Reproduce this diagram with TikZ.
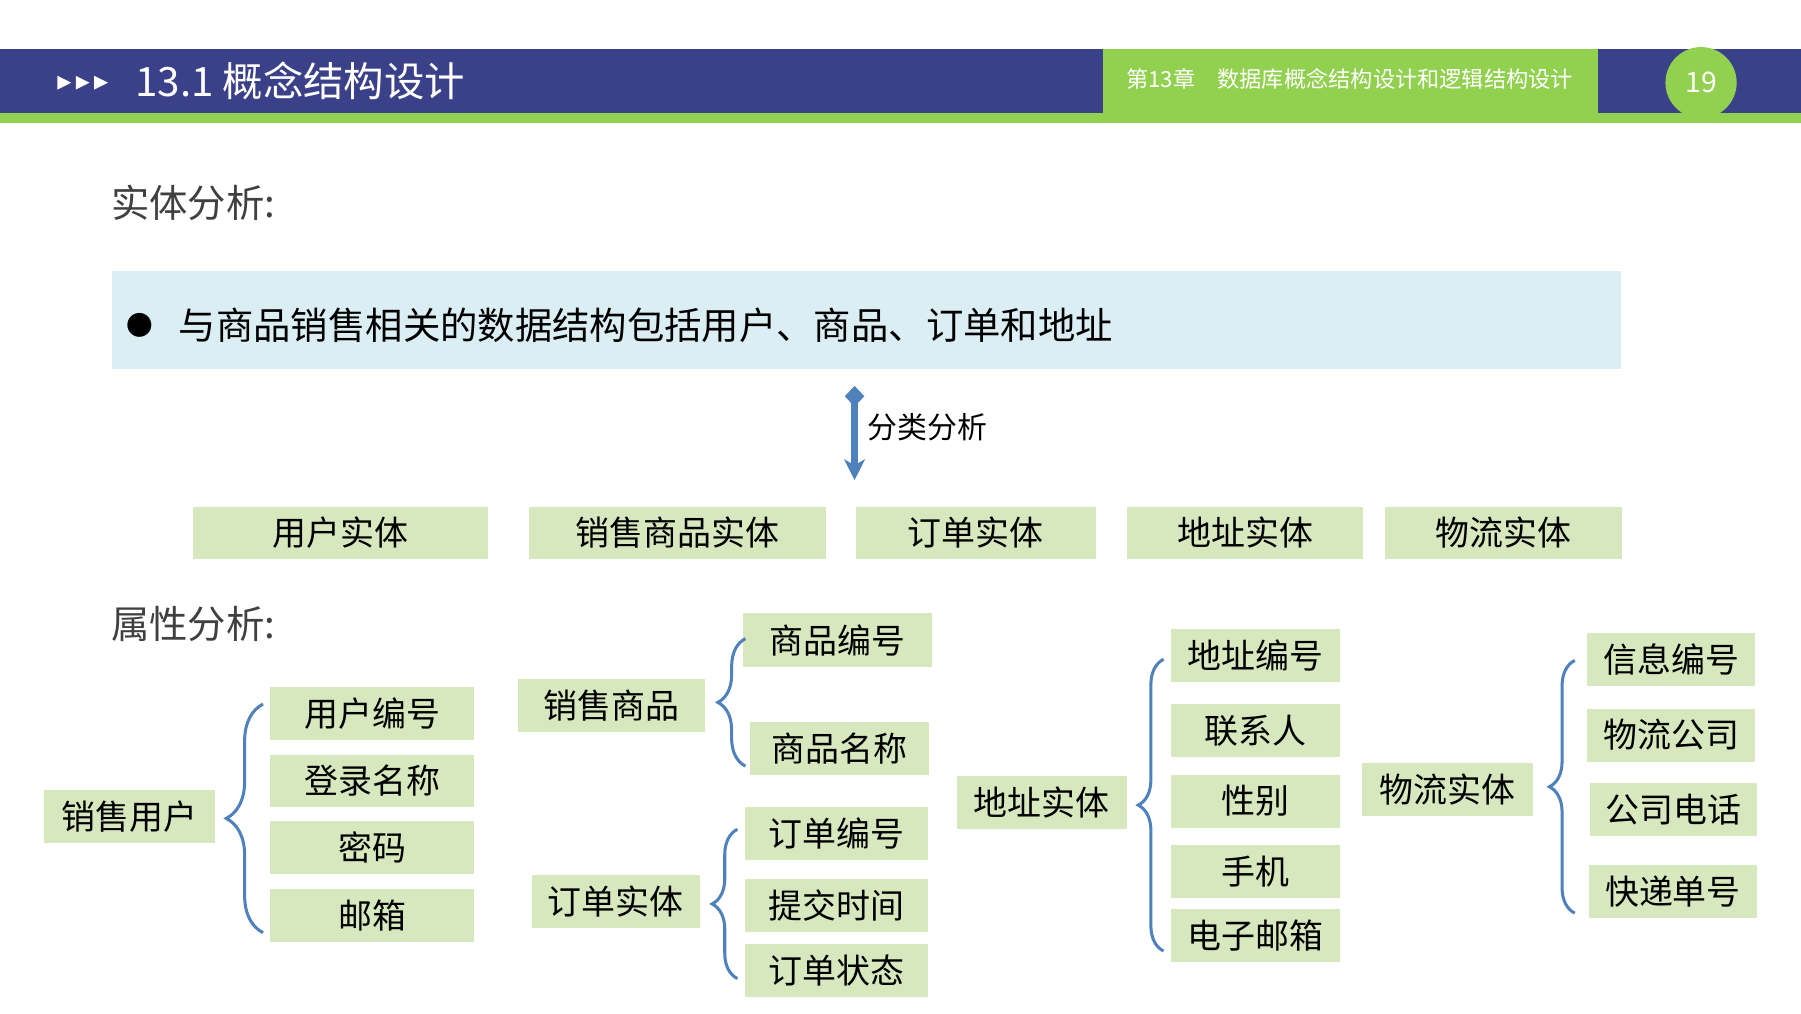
\documentclass[tikz,border=0pt]{standalone}
\usepackage{fontspec}
\setmainfont{Noto Sans CJK SC}
\usetikzlibrary{arrows.meta, decorations.pathreplacing, positioning}

\definecolor{barblue}{RGB}{59,65,136}
\definecolor{bargreen}{RGB}{146,208,80}
\definecolor{infoblue}{RGB}{219,238,244}
\definecolor{boxgreen}{RGB}{215,231,190}
\definecolor{bracecol}{RGB}{79,129,189}
\definecolor{headgray}{RGB}{64,64,64}

\tikzset{
  entbox/.style={fill=boxgreen, minimum height=0.46cm, inner sep=0pt,
    font=\fontsize{8.4pt}{10pt}\selectfont},
  attrbox/.style={fill=boxgreen, minimum height=0.46cm, inner sep=0pt,
    font=\fontsize{8.4pt}{10pt}\selectfont},
  attrbrace/.style={draw=bracecol, line width=0.75pt, decorate,
    decoration={brace, amplitude=#1}},
  heading/.style={anchor=west, inner sep=0pt, text=headgray, font=\fontsize{9.5pt}{11pt}\selectfont},
}

\begin{document}
\begin{tikzpicture}[x=0.01cm, y=-0.01cm]
    \useasboundingbox (0,0) rectangle (1568,882);
    \fill[white] (0,0) rectangle (1568,882);

    % header bar
    \fill[barblue] (0,43) rectangle (1568,98);
    \fill[bargreen] (0,98) rectangle (1568,107);
    \fill[bargreen] (960,43) rectangle (1391,107);
    \foreach \i in {0,1,2} {
        \fill[white] (50+\i*16,66) -- ++(12,6) -- ++(-12,6) -- cycle;
    };
    \node[anchor=west, inner sep=0pt, text=white, font=\fontsize{10pt}{12pt}\selectfont] (title) at (117,70) {13.1 概念结构设计};
    \node[text=white, font=\fontsize{5.5pt}{7pt}\selectfont] (chapter) at (1175,69) {第13章　数据库概念结构设计和逻辑结构设计};
    \node[circle, fill=bargreen, minimum size=0.62cm, inner sep=0pt, text=white,
      font=\fontsize{7pt}{8pt}\selectfont] (pagenum) at (1481,72) {19};

    % entity analysis
    \node[heading] (enthead) at (96,177) {实体分析:};
    \node[fill=infoblue, minimum width=13.13cm, minimum height=0.85cm, inner sep=0pt] (infobox) at (754.5,278.5) {};
    \node[font=\fontsize{6.6pt}{8pt}\selectfont, inner sep=0pt] (bullet) at (122,283) {●};
    \node[anchor=west, inner sep=0pt, font=\fontsize{9.25pt}{11pt}\selectfont] (infotext) at (155,283) {与商品销售相关的数据结构包括用户、商品、订单和地址};

    \coordinate (clstop) at (744,336);
    \coordinate (clsbot) at (744,418);
    \draw[bracecol, line width=1.6pt, {Diamond[length=0.18cm, width=0.17cm]}-{Stealth[length=0.18cm, width=0.18cm, inset=0.05cm]}]
        (clstop) -- (clsbot) node[pos=0.44, right=1.5pt, inner sep=1pt, text=black, font=\fontsize{7.4pt}{9pt}\selectfont] (clslabel) {分类分析};

    \node[entbox, minimum width=2.57cm] (ent1) at (296.5,464) {用户实体};
    \node[entbox, minimum width=2.58cm] (ent2) at (590,464) {销售商品实体};
    \node[entbox, minimum width=2.09cm] (ent3) at (849.5,464) {订单实体};
    \node[entbox, minimum width=2.06cm] (ent4) at (1084,464) {地址实体};
    \node[entbox, minimum width=2.06cm] (ent5) at (1309,464) {物流实体};

    % attribute analysis
    \node[heading] (attrhead) at (96,543) {属性分析:};

    \node[attrbox, minimum width=1.49cm] (user) at (113,711) {销售用户};
    \foreach \name/\ypos [count=\i] in {用户编号/621, 登录名称/680, 密码/738, 邮箱/797} {
        \node[attrbox, minimum width=1.78cm] (user\i) at (324,\ypos) {\name};
    };
    \coordinate (ubr-top) at (229,613);
    \coordinate (ubr-bot) at (229,812);
    \draw[attrbrace=0.32cm] (ubr-bot) -- (ubr-top);

    \node[attrbox, minimum width=1.63cm] (goods) at (532.5,614) {销售商品};
    \node[attrbox, minimum width=1.64cm, minimum height=0.47cm] (goods1) at (729,557.5) {商品编号};
    \node[attrbox, minimum width=1.56cm] (goods2) at (731,652) {商品名称};
    \coordinate (gbr-top) at (649,556);
    \coordinate (gbr-bot) at (649,667);
    \draw[attrbrace=0.24cm] (gbr-bot) -- (gbr-top);

    \node[attrbox, minimum width=1.46cm] (order) at (536,785) {订单实体};
    \foreach \name/\ypos [count=\i] in {订单编号/726, 提交时间/788, 订单状态/845} {
        \node[attrbox, minimum width=1.59cm] (order\i) at (728.5,\ypos) {\name};
    };
    \coordinate (obr-top) at (642,722);
    \coordinate (obr-bot) at (642,852);
    \draw[attrbrace=0.22cm] (obr-bot) -- (obr-top);

    \node[attrbox, minimum width=1.48cm] (addr) at (907,698.5) {地址实体};
    \foreach \name/\ypos [count=\i] in {地址编号/570.5, 联系人/636, 性别/697.5, 手机/758.5, 电子邮箱/814.5} {
        \node[attrbox, minimum width=1.47cm] (addr\i) at (1093,\ypos) {\name};
    };
    \coordinate (abr-top) at (1013,574);
    \coordinate (abr-bot) at (1013,828);
    \draw[attrbrace=0.22cm] (abr-bot) -- (abr-top);

    \node[attrbox, minimum width=1.49cm] (ship) at (1260.5,687.5) {物流实体};
    \foreach \name/\xpos/\ypos [count=\i] in {信息编号/1455/574, 物流公司/1455/640, 公司电话/1457/705, 快递单号/1456.5/776} {
        \node[attrbox, minimum width=1.46cm] (ship\i) at (\xpos,\ypos) {\name};
    };
    \coordinate (sbr-top) at (1371,575);
    \coordinate (sbr-bot) at (1371,795);
    \draw[attrbrace=0.22cm] (sbr-bot) -- (sbr-top);

\end{tikzpicture}
\end{document}
